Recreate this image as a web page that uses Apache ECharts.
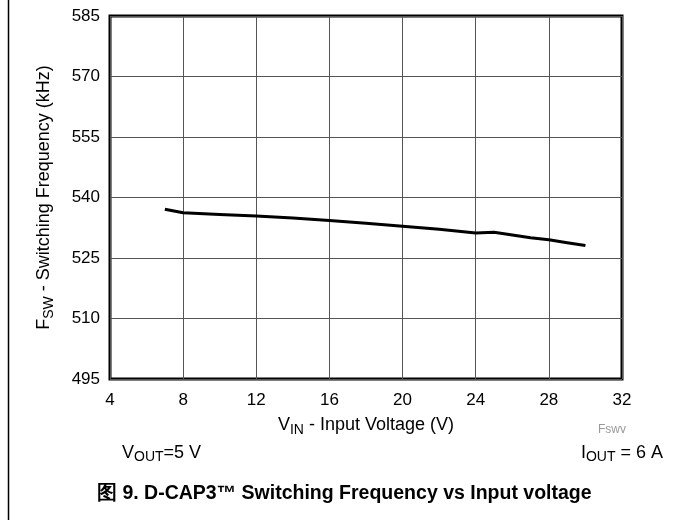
<!DOCTYPE html>
<html>
<head>
<meta charset="utf-8">
<script src="https://cdn.jsdelivr.net/npm/echarts@6/dist/echarts.min.js"></script>
<style>html,body{margin:0;padding:0;background:#fff;}#c{width:673px;height:520px;}</style>
</head>
<body>
<div id="c"></div>
<script>
var vin = [7, 8, 10, 12, 14, 16, 18, 20, 22, 24, 25, 26, 27, 28, 29, 30];
var fsw = [537.1, 536.2, 535.8, 535.4, 534.9, 534.3, 533.6, 532.9, 532.1, 531.2, 531.4, 530.7, 530.0, 529.5, 528.8, 528.1];
var xTicks = [4, 8, 12, 16, 20, 24, 28, 32];
var yTicks = [495, 510, 525, 540, 555, 570, 585];

var FONT = '"Liberation Sans", Arial, sans-serif';
var chart = echarts.init(document.getElementById('c'));
chart.setOption({
  animation: false,
  backgroundColor: '#fff',
  grid: { left: 110, right: 51, top: 16, bottom: 141, show: true, borderColor: '#000', borderWidth: 3, backgroundColor: 'transparent' },
  xAxis: {
    type: 'value', min: xTicks[0], max: xTicks[xTicks.length - 1], interval: 4,
    axisLine: { show: false }, axisTick: { show: false },
    splitLine: { show: true, lineStyle: { color: '#555', width: 1 } },
    axisLabel: { color: '#000', fontSize: 17, fontFamily: FONT, margin: 13 },
    name: '{n|V}{s|IN}{n| - Input Voltage (V)}', nameLocation: 'middle', nameGap: 35,
    nameTextStyle: { rich: {
      n: { fontSize: 18, fontFamily: FONT, color: '#000' },
      s: { fontSize: 14, fontFamily: FONT, color: '#000', padding: [9, 0, 0, 0] }
    } }
  },
  yAxis: {
    type: 'value', min: yTicks[0], max: yTicks[yTicks.length - 1], interval: 15,
    axisLine: { show: false }, axisTick: { show: false },
    splitLine: { show: true, lineStyle: { color: '#555', width: 1 } },
    axisLabel: { color: '#000', fontSize: 17, fontFamily: FONT, margin: 10 },
    name: '{n|F}{s|SW}{n| - Switching Frequency (kHz)}', nameLocation: 'middle', nameGap: 54,
    nameTextStyle: { rich: {
      n: { fontSize: 18, fontFamily: FONT, color: '#000' },
      s: { fontSize: 14, fontFamily: FONT, color: '#000', padding: [9, 0, 0, 0] }
    } }
  },
  series: [{
    type: 'line', data: vin.map(function (v, i) { return [v, fsw[i]]; }),
    showSymbol: false, lineStyle: { color: '#000', width: 3 }, smooth: false
  }],
  graphic: [
    { type: 'line', shape: { x1: 8.5, y1: 0, x2: 8.5, y2: 520 }, style: { stroke: '#000', lineWidth: 1.5 } },
    { type: 'text', left: 598, top: 424, style: { text: 'Fswv', font: '12px ' + FONT, fill: '#999' } },
    { type: 'text', left: 122, top: 444, style: {
      text: '{n|V}{s|OUT}{n|=5 V}', rich: {
        n: { fontSize: 18, fontFamily: FONT, fill: '#000' },
        s: { fontSize: 14, fontFamily: FONT, fill: '#000', padding: [9, 0, 0, 0] }
      } } },
    { type: 'text', right: 10, top: 444, style: {
      text: '{n|I}{s|OUT}{n| = 6 A}', rich: {
        n: { fontSize: 18, fontFamily: FONT, fill: '#000' },
        s: { fontSize: 14, fontFamily: FONT, fill: '#000', padding: [9, 0, 0, 0] }
      } } },
    { type: 'text', left: 97, top: 484, style: { text: '图 9. D-CAP3™ Switching Frequency vs Input voltage', font: 'bold 19.5px ' + FONT, fill: '#000' } }
  ]
});
</script>
</body>
</html>
